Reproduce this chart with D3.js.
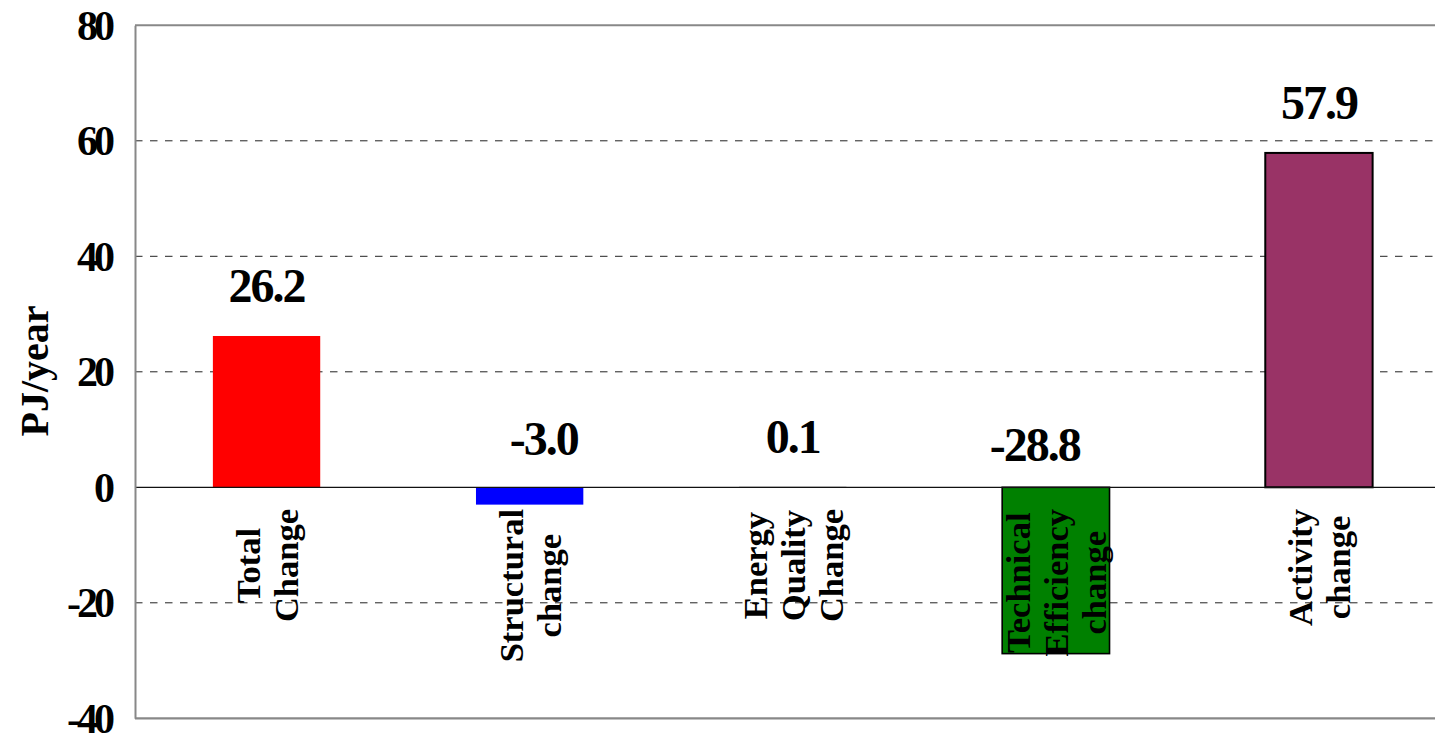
<!DOCTYPE html>
<html>
<head>
<meta charset="utf-8">
<script src="https://cdn.jsdelivr.net/npm/d3@7"></script>
<style>
  html, body { margin: 0; padding: 0; background: #fff; }
  svg { display: block; }
  text { font-family: "Liberation Serif", "Times New Roman", serif; font-weight: bold; fill: #000; }
</style>
</head>
<body>
<svg id="chart" width="1435" height="737"></svg>
<script>
// Decomposition of the change in energy use (PJ/year)
const categories = [
  "Total Change",
  "Structural change",
  "Energy Quality Change",
  "Technical Efficiency change",
  "Activity change"
];
const categoryLines = [
  ["Total", "Change"],
  ["Structural", "change"],
  ["Energy", "Quality", "Change"],
  ["Technical", "Efficiency", "change"],
  ["Activity", "change"]
];
const values = [26.2, -3.0, 0.1, -28.8, 57.9];
const valueLabels = ["26.2", "-3.0", "0.1", "-28.8", "57.9"];
const barColors = ["#FF0000", "#0000FF", "#808080", "#008000", "#993366"];
const tickValues = [-40, -20, 0, 20, 40, 60, 80];
const axisTitle = "PJ/year";

// Layout
const W = 1435, H = 737;
const plot = { left: 135, right: 1450.5, top: 25.3, bottom: 718.3 };
const barOutline = { "Technical Efficiency change": 1.6, "Activity change": 2 };
// hand placement of a few value labels
const labelNudge = { "Structural change": [14, 1], "Technical Efficiency change": [-21, 7] };

const svg = d3.select("#chart");

const x = d3.scaleBand()
  .domain(categories)
  .range([plot.left, plot.right])
  .padding(0);

const y = d3.scaleLinear()
  .domain([-40, 80])
  .range([plot.bottom, plot.top]);

const barW = x.bandwidth() * 0.408;
const cx = c => x(c) + x.bandwidth() / 2;

// dashed gridlines
svg.append("g")
  .selectAll("line")
  .data(tickValues.filter(t => t !== 0 && t !== -40 && t !== 80))
  .join("line")
  .attr("x1", plot.left).attr("x2", plot.right)
  .attr("y1", d => y(d)).attr("y2", d => y(d))
  .attr("stroke", "#222")
  .attr("stroke-width", 1)
  .attr("stroke-dasharray", "7.5,7.5");

// bars
const data = categories.map((c, i) => ({ c, v: values[i], color: barColors[i], label: valueLabels[i] }));

svg.append("g")
  .selectAll("rect")
  .data(data)
  .join("rect")
  .attr("x", d => cx(d.c) - barW / 2)
  .attr("width", barW)
  .attr("y", d => y(Math.max(0, d.v)))
  .attr("height", d => Math.abs(y(d.v) - y(0)))
  .attr("fill", d => d.color)
  .attr("stroke", d => barOutline[d.c] ? "#000" : "none")
  .attr("stroke-width", d => barOutline[d.c] || 0);

// zero line
svg.append("line")
  .attr("x1", plot.left).attr("x2", plot.right)
  .attr("y1", y(0)).attr("y2", y(0))
  .attr("stroke", "#111").attr("stroke-width", 1.2);

// frame: top border, bottom axis and left axis
svg.append("line")
  .attr("x1", plot.left).attr("x2", plot.right)
  .attr("y1", y(80)).attr("y2", y(80))
  .attr("stroke", "#888").attr("stroke-width", 2);
svg.append("line")
  .attr("x1", plot.left).attr("x2", plot.right)
  .attr("y1", y(-40)).attr("y2", y(-40))
  .attr("stroke", "#888").attr("stroke-width", 2.2);

const yAxis = d3.axisLeft(y).tickValues(tickValues).tickSize(0).tickPadding(0).tickFormat(d => String(d));
const gy = svg.append("g")
  .attr("transform", `translate(${plot.left},0)`)
  .call(yAxis);
gy.select(".domain").attr("stroke", "#888").attr("stroke-width", 2);
gy.selectAll(".tick text")
  .attr("x", -24)
  .attr("dy", "0.33em")
  .style("font-family", '"Liberation Serif", "Times New Roman", serif')
  .style("font-weight", "bold")
  .style("font-size", "42px")
  .style("letter-spacing", "-4px")
  .attr("fill", "#000");

// axis title
svg.append("text")
  .attr("transform", "translate(47.5,371) rotate(-90)")
  .attr("text-anchor", "middle")
  .style("font-size", "40px")
  .text(axisTitle);

// value labels
svg.append("g")
  .selectAll("text")
  .data(data)
  .join("text")
  .attr("x", d => cx(d.c) + (labelNudge[d.c] ? labelNudge[d.c][0] : 0))
  .attr("y", d => y(Math.max(0, d.v)) - 33.5 + (labelNudge[d.c] ? labelNudge[d.c][1] : 0))
  .attr("text-anchor", "middle")
  .style("font-size", "48px")
  .style("letter-spacing", "-2px")
  .text(d => d.label);

// rotated category labels below the zero line
const lineGap = 38;
const labelTop = 509;
categories.forEach((c, i) => {
  const lines = categoryLines[i];
  const g = svg.append("g")
    .attr("transform", `translate(${cx(c)},${labelTop}) rotate(-90)`);
  const texts = g.selectAll("text")
    .data(lines)
    .join("text")
    .attr("text-anchor", "middle")
    .style("font-size", "34.5px")
    .attr("y", (d, k) => 12.5 + (k - (lines.length - 1) / 2) * lineGap)
    .text(d => d);
  let maxLen = 0;
  texts.each(function () { maxLen = Math.max(maxLen, this.getComputedTextLength()); });
  texts.attr("x", -maxLen / 2);
});
</script>
</body>
</html>
